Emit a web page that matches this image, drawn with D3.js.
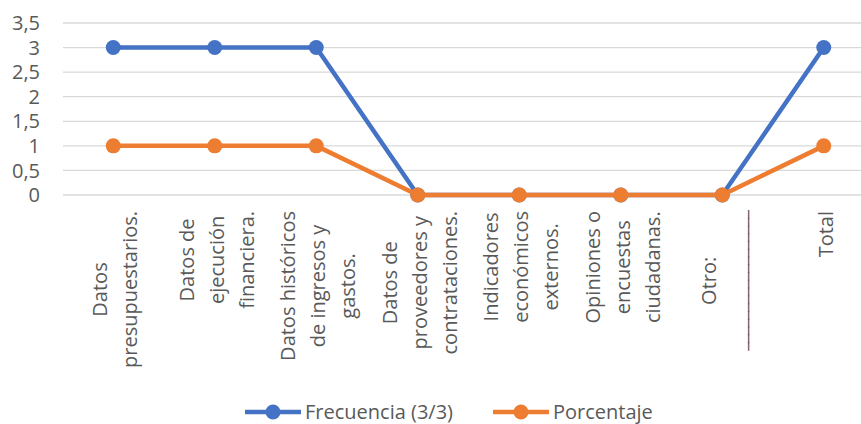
<!DOCTYPE html>
<meta charset="utf-8">
<style>
    body { margin: 0; background: #fff; }
    svg text { font-family: "Open Sans", Lato, sans-serif; fill: #595959; }
</style>
<script src="https://cdn.jsdelivr.net/npm/d3@7"></script>
<body>
<script>
// category labels, already split into lines as in the picture
var categories = [
    ["Datos", "presupuestarios."],
    ["Datos de", "ejecución", "financiera."],
    ["Datos históricos", "de ingresos y", "gastos."],
    ["Datos de", "proveedores y", "contrataciones."],
    ["Indicadores", "económicos", "externos."],
    ["Opiniones o", "encuestas", "ciudadanas."],
    ["Otro:", "__________________"],
    ["Total"]
];
var frecuencia = [3, 3, 3, 0, 0, 0, 0, 3];
var porcentaje = [1, 1, 1, 0, 0, 0, 0, 1];
var yTicks = [0, 0.5, 1, 1.5, 2, 2.5, 3, 3.5];
var seriesNames = ["Frecuencia (3/3)", "Porcentaje"];

var width = 861, height = 424;
var colors = ["#4472C4", "#ED7D31"];
var fontSize = 20;

var svg = d3.select("body").append("svg")
    .attr("width", width)
    .attr("height", height);

var x = d3.scalePoint()
    .domain(d3.range(categories.length))
    .range([62.5, 874.5])
    .padding(0.5);

var y = d3.scaleLinear()
    .domain([0, 3.5])
    .range([195, 23]);

var fmt = function(d) { return String(d).replace(".", ","); };

//gridlines
svg.selectAll(".grid")
    .data(yTicks)
    .enter()
    .append("line")
    .attr("x1", 63)
    .attr("x2", 875)
    .attr("y1", function(d) { return y(d); })
    .attr("y2", function(d) { return y(d); })
    .style("stroke", "#d9d9d9")
    .style("stroke-width", 1.3);

//y axis labels
svg.selectAll(".ylab")
    .data(yTicks)
    .enter()
    .append("text")
    .attr("x", 40)
    .attr("y", function(d) { return y(d); })
    .attr("dy", "0.36em")
    .style("text-anchor", "end")
    .style("font-size", fontSize + "px")
    .text(fmt);

//x labels: rotated, lines centered, longest line starting just under the axis
var lineGap = 30;
var labelTop = 211;
categories.forEach(function(lines, i) {
    var g = svg.append("g");
    var texts = g.selectAll("text")
        .data(lines)
        .enter()
        .append("text")
        .style("font-size", fontSize + "px")
        .style("text-anchor", "middle")
        .style("letter-spacing", function(d) { return d.charAt(0) == "_" ? "-1px" : null; })
        .text(function(d) { return d; });
    var maxLen = 0;
    texts.each(function() { maxLen = Math.max(maxLen, this.getComputedTextLength()); });
    var cy = labelTop + maxLen / 2;
    texts.attr("transform", function(d, j) {
        var bx = x(i) + 9 + (j - (lines.length - 1) / 2) * lineGap;
        return "translate(" + bx + "," + cy + ") rotate(-90)";
    });
});

//series
var series = [frecuencia, porcentaje];
var line = d3.line()
    .x(function(d, i) { return x(i); })
    .y(function(d) { return y(d); });

series.forEach(function(values, k) {
    svg.append("path")
        .datum(values)
        .attr("d", line)
        .style("fill", "none")
        .style("stroke", colors[k])
        .style("stroke-width", 4.5)
        .style("stroke-linejoin", "round");
    svg.selectAll(".dot" + k)
        .data(values)
        .enter()
        .append("circle")
        .attr("cx", function(d, i) { return x(i); })
        .attr("cy", function(d) { return y(d); })
        .attr("r", 7.5)
        .style("fill", colors[k]);
});

//legend
var legendX = [245, 493];
seriesNames.forEach(function(name, k) {
    var lg = svg.append("g").attr("transform", "translate(" + legendX[k] + ",412)");
    lg.append("line")
        .attr("x1", 0).attr("x2", 56)
        .style("stroke", colors[k])
        .style("stroke-width", 4.5);
    lg.append("circle")
        .attr("cx", 28)
        .attr("r", 7.5)
        .style("fill", colors[k]);
    lg.append("text")
        .attr("x", 60)
        .attr("dy", "0.36em")
        .style("font-size", fontSize + "px")
        .text(name);
});
</script>
</body>
